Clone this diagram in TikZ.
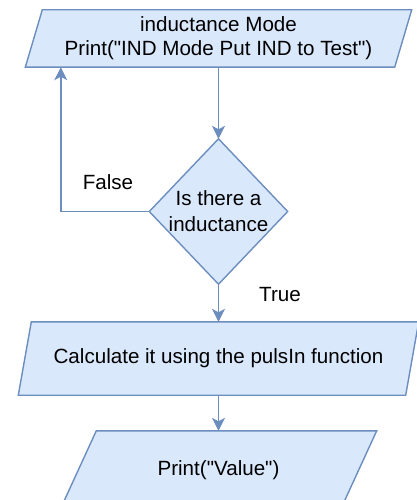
\documentclass[tikz,border=0pt]{standalone}
\usepackage{fontspec}
\setmainfont{Liberation Sans}[Ligatures=TeXOff]
\usetikzlibrary{arrows.meta,calc,backgrounds}
\definecolor{boxfill}{HTML}{DAE8FC}
\definecolor{boxline}{HTML}{6C8EBF}
\begin{document}
\begin{tikzpicture}[x=1pt,y=-1pt,
  txt/.style={font=\fontsize{20.6}{26}\selectfont, text=black, align=center, inner sep=0pt},
  region/.style={txt, rectangle, draw=none},
  outline/.style={draw=boxline, fill=boxfill, line width=1.4pt, line join=miter},
  flow/.style={draw=boxline, line width=1.4pt,
    -{Stealth[length=13pt, width=13pt, inset=3.5pt]}},
  lbl/.style={font=\fontsize{20.6}{26}\selectfont, text=black, inner sep=0pt}]
\useasboundingbox (0,0) rectangle (416,500);

% text regions of the four blocks
\node[region, minimum width=369pt, minimum height=57pt,
      font=\fontsize{20.6}{24}\selectfont] (b1) at (218.5,38.5)
  {inductance Mode\\Print("IND Mode Put IND to Test")};
\node[region, minimum width=138pt, minimum height=145pt] (d) at (218.5,211.5)
  {Is there a\\inductance};
\node[region, minimum width=387pt, minimum height=73pt] (b2) at (218.5,358.5)
  {Calculate it using the pulsIn function};
\node[region, minimum width=280pt, minimum height=78pt] (b3) at (218.5,470)
  {Print("Value")};

% block outlines behind the text
\begin{scope}[on background layer]
  \path[outline] ($(b1.north west)+(8.5,0)$) -- ($(b1.north east)+(8.5,0)$)
    -- ($(b1.south east)-(8.5,0)$) -- ($(b1.south west)-(8.5,0)$) -- cycle;
  \path[outline] (d.north) -- (d.east) -- (d.south) -- (d.west) -- cycle;
  \path[outline] ($(b2.north west)+(6.5,0)$) -- ($(b2.north east)+(6.5,0)$)
    -- ($(b2.south east)-(6.5,0)$) -- ($(b2.south west)-(6.5,0)$) -- cycle;
  \path[outline] ($(b3.north west)+(18,0)$) -- ($(b3.north east)+(18,0)$)
    -- ($(b3.south east)-(18,0)$) -- ($(b3.south west)-(18,0)$) -- cycle;
\end{scope}

% connectors
\draw[flow] (b1.south) -- (d.north);
\draw[flow] (d.west) -| ($(b1.south west)+(27,0)$);
\draw[flow] (d.south) -- (b2.north);
\draw[flow] (b2.south) -- (b3.north);

% branch labels
\node[lbl] (lfalse) at (108,182) {False};
\node[lbl] (ltrue) at (280,294.5) {True};
\end{tikzpicture}
\end{document}
